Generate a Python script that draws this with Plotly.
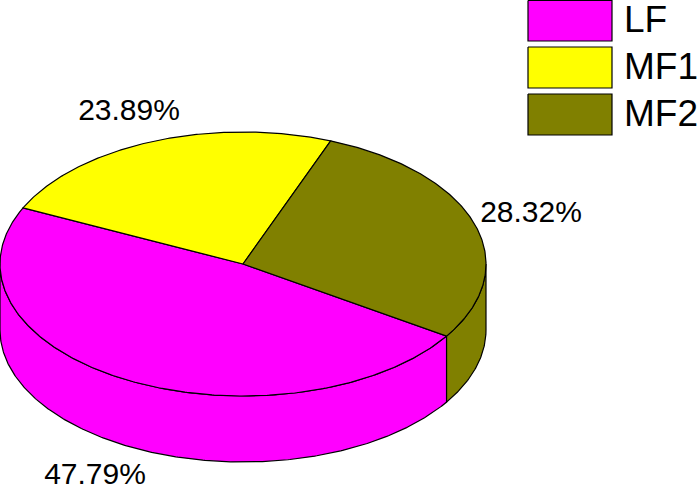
import numpy as np
import plotly.graph_objects as go

categories = ["LF", "MF1", "MF2"]
values = [47.79, 23.89, 28.32]
value_labels = ["47.79%", "23.89%", "28.32%"]
colors = ["#ff00ff", "#ffff00", "#808000"]

W, H = 698, 486
CX, CY, RX, RY, DEPTH = 243, 264, 243, 132, 66
START_DEG = -33.1
LW = 1.2


def pt(deg, drop=0.0):
    a = np.radians(deg)
    return CX + RX * np.cos(a), CY - RY * np.sin(a) + drop


def arc(d0, d1, drop=0.0):
    n = max(2, int(abs(d1 - d0) * 2))
    d = np.linspace(d0, d1, n)
    return pt(d, drop)


fig = go.Figure()


def poly(xs, ys, color):
    fig.add_trace(go.Scatter(x=xs, y=ys, mode="lines", fill="toself", fillcolor=color,
                             line=dict(color="black", width=LW), hoverinfo="skip",
                             showlegend=False))


bounds = [START_DEG]
for v in values:
    bounds.append(bounds[-1] - v / 100 * 360)
spans = list(zip(bounds[:-1], bounds[1:], colors))

# side walls: only the front half of the rim
for d0, d1, col in spans:
    hi, lo = max(d0, d1), min(d0, d1)
    for shift in (0, 360, -360):
        a = min(hi + shift, 0)
        b = max(lo + shift, -180)
        if a > b:
            x1, y1 = arc(a, b)
            x2, y2 = arc(b, a, DEPTH)
            poly(np.r_[x1, x2, x1[0]], np.r_[y1, y2, y1[0]], col)

# top faces
for d0, d1, col in spans:
    xa, ya = arc(d0, d1)
    poly(np.r_[CX, xa, CX], np.r_[CY, ya, CY], col)

# percent labels
label_x = [95, 129, 531]
label_y = [476.5, 112, 214]
fig.add_trace(go.Scatter(x=label_x, y=label_y, mode="text", text=value_labels,
                         textposition="middle center", showlegend=False, hoverinfo="skip",
                         cliponaxis=False,
                         textfont=dict(family="Liberation Sans, Arial", size=30, color="black")))

# legend
legend_top = [0.5, 47, 94]
legend_bottom = [41, 88, 135]
legend_left, legend_right = 528, 612
legend_text_shift = 2
for name, col, t, b in zip(categories, colors, legend_top, legend_bottom):
    fig.add_trace(go.Scatter(x=[legend_left, legend_right, legend_right, legend_left, legend_left],
                             y=[t, t, b, b, t], mode="lines", fill="toself", fillcolor=col,
                             line=dict(color="black", width=LW), hoverinfo="skip", showlegend=False))
    fig.add_trace(go.Scatter(x=[624], y=[(t + b) / 2 + legend_text_shift], mode="text", text=[name],
                             textposition="middle right", showlegend=False, hoverinfo="skip",
                             cliponaxis=False,
                             textfont=dict(family="Liberation Sans, Arial", size=37, color="black")))

fig.update_layout(width=W, height=H, margin=dict(l=0, r=0, t=0, b=0), autosize=False,
                  paper_bgcolor="white", plot_bgcolor="white",
                  xaxis=dict(range=[0, W], visible=False, fixedrange=True),
                  yaxis=dict(range=[H, 0], visible=False, fixedrange=True))
fig.write_html("out.html", config=dict(displayModeBar=False),
               post_script="document.body.style.margin='0';document.body.style.overflow='hidden';")
